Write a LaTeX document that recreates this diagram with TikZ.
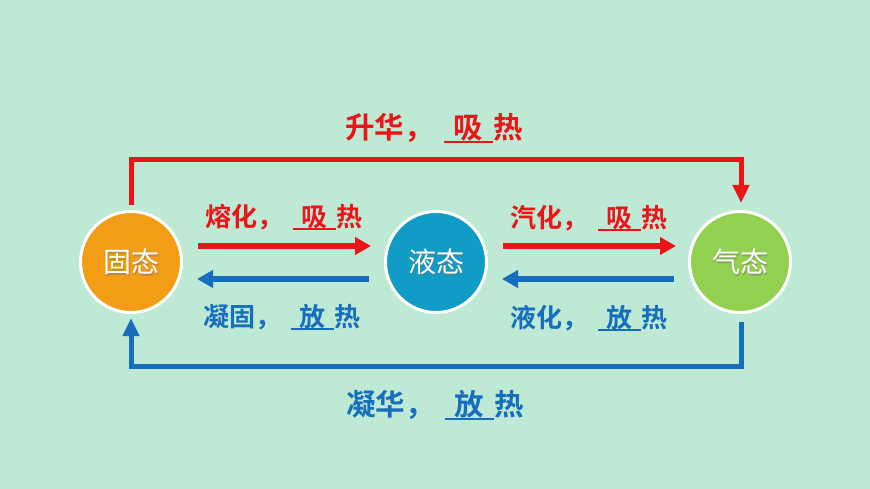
\documentclass[tikz,border=0pt]{standalone}
\usepackage{fontspec}
\newfontfamily\cjk{Noto Sans CJK SC}
\newfontfamily\cjkb{Noto Sans CJK SC Bold}
\usetikzlibrary{arrows.meta}
\definecolor{bg}{RGB}{190,234,213}
\definecolor{hot}{RGB}{235,20,25}
\definecolor{cold}{RGB}{22,110,188}
\definecolor{solidc}{RGB}{243,156,22}
\definecolor{liquidc}{RGB}{16,156,196}
\definecolor{gasc}{RGB}{146,208,80}
\newcommand{\blankfill}[1]{{\setbox0\hbox{\hspace{.33em}#1\hspace{.33em}}\rlap{\rule[-0.15em]{\wd0}{0.075em}}\box0}}
\tikzset{
  state/.style={circle,draw=white,line width=3pt,minimum size=101pt,inner sep=0pt},
  statetext/.style={inner sep=0pt,text=white,font=\cjk\fontsize{28}{30}\selectfont},
  stateshadow/.style={inner sep=0pt,text=black!55,opacity=0.45,font=\cjk\fontsize{28}{30}\selectfont},
  biglabel/.style={inner sep=0pt,font=\cjkb\fontsize{29.5}{32}\selectfont},
  smalllabel/.style={inner sep=0pt,font=\cjkb\fontsize{26}{28}\selectfont},
  midarrow/.style={line width=6pt,-{Triangle[length=16pt,width=17pt]}},
  outerarrow/.style={line width=5pt,-{Triangle[length=18pt,width=16pt]}},
}
\begin{document}
\begin{tikzpicture}[x=1pt,y=-1pt]
\fill[bg] (0,0) rectangle (870,489);
\useasboundingbox (0,0) rectangle (870,489);
% circles
\node[state,fill=solidc] (solid) at (131,262) {};
\node[state,fill=liquidc] (liquid) at (436,262) {};
\node[state,fill=gasc] (gas) at (740,262) {};
\node[stateshadow] (solidsh) at (132.5,263.5) {固态};
\node[stateshadow] (liquidsh) at (437.5,263.5) {液态};
\node[stateshadow] (gassh) at (741.5,263.5) {气态};
\node[statetext] (solidt) at (131,262) {固态};
\node[statetext] (liquidt) at (436,262) {液态};
\node[statetext] (gast) at (740,262) {气态};
% coordinates
\coordinate (gTop) at (741,203);
\coordinate (gBot) at (741,322);
\coordinate (sBot) at (131,318);
\coordinate (a1s) at (198,246); \coordinate (a1e) at (371,246);
\coordinate (a2s) at (369,279); \coordinate (a2e) at (197,279);
\coordinate (a3s) at (503,246); \coordinate (a3e) at (676,246);
\coordinate (a4s) at (674,279); \coordinate (a4e) at (502,279);
% outer connectors
\draw[outerarrow,hot] (solid.north) ++(0,-5) -- (131,160) -- (741,160) -- (gTop);
\draw[outerarrow,cold] (gBot) -- (741,366) -- (131,366) -- (sBot);
% middle arrows
\draw[midarrow,hot] (a1s) -- (a1e);
\draw[midarrow,cold] (a2s) -- (a2e);
\draw[midarrow,hot] (a3s) -- (a3e);
\draw[midarrow,cold] (a4s) -- (a4e);
% labels
\node[biglabel,text=hot] (sub) at (434,128) {升华，\hspace{.35em}\blankfill{吸}热};
\node[biglabel,text=cold] (dep) at (435,405) {凝华，\hspace{.35em}\blankfill{放}热};
\node[smalllabel,text=hot] (melt) at (284,217) {熔化，\hspace{.35em}\blankfill{吸}热};
\node[smalllabel,text=cold] (freeze) at (282,317) {凝固，\hspace{.35em}\blankfill{放}热};
\node[smalllabel,text=hot] (vap) at (589,218) {汽化，\hspace{.35em}\blankfill{吸}热};
\node[smalllabel,text=cold] (cond) at (589,318) {液化，\hspace{.35em}\blankfill{放}热};
\end{tikzpicture}
\end{document}
